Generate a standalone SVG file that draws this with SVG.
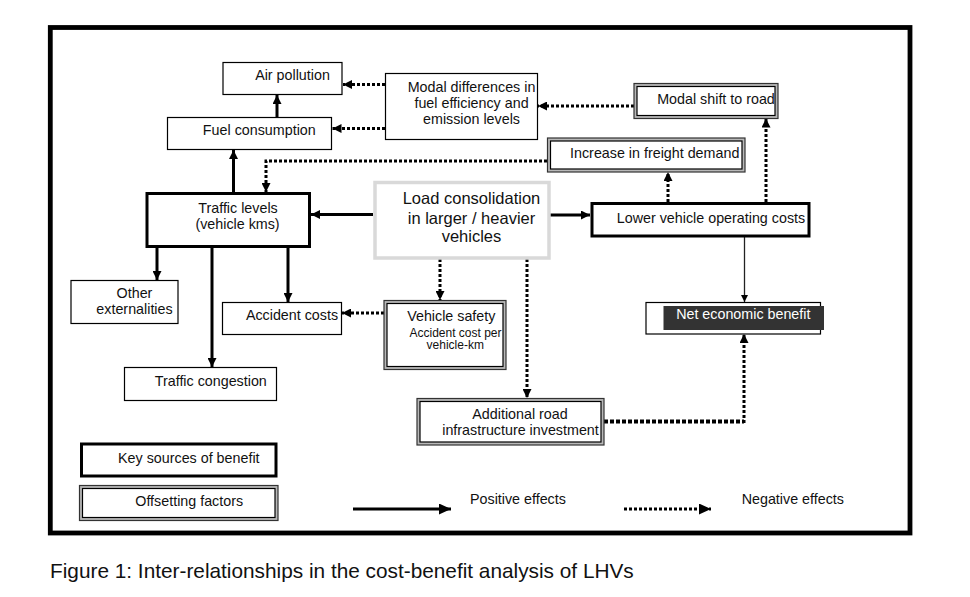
<svg xmlns="http://www.w3.org/2000/svg" width="970" height="597" viewBox="0 0 970 597">
<defs>
<style>
text{font-family:"Liberation Sans",Arial,sans-serif;font-size:14.3px;fill:#111;text-anchor:middle}
.big{font-size:16.5px}
.sm{font-size:12px}
.st{text-anchor:start}
.box{fill:#fff;stroke:#000;stroke-width:1.2}
.thick{fill:#fff;stroke:#000;stroke-width:3}
.dbo{fill:#b8b8b8;stroke:#333;stroke-width:1.2}
.dbi{fill:#fff;stroke:#000;stroke-width:1.2}
.sol{fill:none;stroke:#000;stroke-width:3}
.dot{fill:none;stroke:#000;stroke-width:3;stroke-dasharray:3 2}
</style>
<marker id="ah" markerUnits="userSpaceOnUse" markerWidth="9" markerHeight="9" viewBox="0 0 10 10" refX="10" refY="5" orient="auto"><path d="M0,0L10,5L0,10z" fill="#000"/></marker>
<marker id="ahs" markerUnits="userSpaceOnUse" markerWidth="7" markerHeight="7" viewBox="0 0 10 10" refX="10" refY="5" orient="auto"><path d="M0,0L10,5L0,10z" fill="#000"/></marker>
<marker id="ahl" markerUnits="userSpaceOnUse" markerWidth="12" markerHeight="11" viewBox="0 0 12 11" refX="12" refY="5.5" orient="auto"><path d="M0,0L12,5.5L0,11z" fill="#000"/></marker>
</defs>
<rect width="970" height="597" fill="#fff"/>
<rect x="50.3" y="27.5" width="859.7" height="505.5" fill="none" stroke="#000" stroke-width="4.8"/>

<g id="connectors">
<line class="sol" x1="277" y1="117" x2="277" y2="95" marker-end="url(#ah)"/>
<line class="sol" x1="233.5" y1="192" x2="233.5" y2="150" marker-end="url(#ah)"/>
<line class="sol" x1="373" y1="214.5" x2="311" y2="214.5" marker-end="url(#ah)"/>
<line class="sol" x1="550" y1="215" x2="590" y2="215" marker-end="url(#ah)"/>
<line class="sol" x1="157" y1="247" x2="157" y2="280" marker-end="url(#ah)"/>
<line class="sol" x1="212" y1="247" x2="212" y2="367" marker-end="url(#ah)"/>
<line class="sol" x1="288" y1="247" x2="288" y2="302" marker-end="url(#ah)"/>
<line class="dot" x1="385" y1="84.5" x2="343" y2="84.5" marker-end="url(#ah)"/>
<line class="dot" x1="385" y1="128.5" x2="332.5" y2="128.5" marker-end="url(#ah)"/>
<line class="dot" x1="634" y1="106" x2="538" y2="106" marker-end="url(#ah)"/>
<path class="dot" d="M547,161H266V192" marker-end="url(#ah)"/>
<line class="dot" x1="668" y1="202" x2="668" y2="172" marker-end="url(#ah)"/>
<line class="dot" x1="766" y1="202" x2="766" y2="118.5" marker-end="url(#ah)"/>
<line class="dot" x1="440" y1="259" x2="440" y2="300" marker-end="url(#ah)"/>
<line class="dot" x1="384" y1="313" x2="342" y2="313" marker-end="url(#ah)"/>
<line class="dot" x1="527" y1="259" x2="527" y2="398" marker-end="url(#ah)"/>
<path d="M604,421.5H744" fill="none" stroke="#000" stroke-width="4" stroke-dasharray="4 2"/>
<line class="dot" x1="744" y1="423" x2="744" y2="334" marker-end="url(#ah)"/>
<line x1="744.5" y1="237" x2="744.5" y2="302" stroke="#222" stroke-width="1.3" marker-end="url(#ahs)"/>
</g>

<g id="air-pollution"><rect class="box" x="223" y="62.5" width="119" height="32"/><text x="292.5" y="80">Air pollution</text></g>
<g id="fuel-consumption"><rect class="box" x="167.5" y="117.5" width="164" height="32"/><text x="259.3" y="135">Fuel consumption</text></g>
<g id="modal-differences"><rect class="box" x="385.5" y="73.5" width="152" height="66"/><text x="471.5" y="91.5">Modal differences in</text><text x="471.5" y="108">fuel efficiency and</text><text x="471.5" y="124">emission levels</text></g>
<g id="modal-shift"><rect class="dbo" x="634" y="83.5" width="144" height="35"/><rect class="dbi" x="637" y="86.5" width="138" height="29"/><text x="716" y="104">Modal shift to road</text></g>
<g id="freight-demand"><rect class="dbo" x="547.5" y="138" width="197.5" height="34"/><rect class="dbi" x="550.5" y="141" width="191.5" height="28"/><text x="654.7" y="158.3">Increase in freight demand</text></g>
<g id="traffic-levels"><rect class="thick" x="147" y="193.5" width="162.5" height="53"/><text x="238" y="212.5">Traffic levels</text><text x="237.5" y="228.5">(vehicle kms)</text></g>
<g id="load-consolidation"><rect x="375" y="182.5" width="174" height="75.5" fill="#fff" stroke="#d9d9d9" stroke-width="3.5"/><text class="big" x="471.5" y="204.3">Load consolidation</text><text class="big" x="471.5" y="224">in larger / heavier</text><text class="big" x="471.5" y="242.3">vehicles</text></g>
<g id="lower-costs"><rect class="thick" x="592" y="203.5" width="217" height="32.5"/><text x="711" y="223.3">Lower vehicle operating costs</text></g>
<g id="other-externalities"><rect class="box" x="71" y="280.5" width="107" height="43"/><text x="134.5" y="298.3">Other</text><text x="134.5" y="314">externalities</text></g>
<g id="accident-costs"><rect class="box" x="222.5" y="302.5" width="119" height="32"/><text x="292" y="320">Accident costs</text></g>
<g id="traffic-congestion"><rect class="box" x="124.5" y="367.5" width="152" height="33"/><text x="210.8" y="386">Traffic congestion</text></g>
<g id="vehicle-safety"><rect class="dbo" x="384" y="300.5" width="122" height="69"/><rect class="dbi" x="387" y="303.5" width="116" height="63"/><text x="451.3" y="320.7">Vehicle safety</text><text class="sm" x="455.5" y="336.7">Accident cost per</text><text class="sm" x="455.3" y="349">vehicle-km</text></g>
<g id="additional-road"><rect class="dbo" x="417" y="398.5" width="187" height="46.5"/><rect class="dbi" x="420" y="401.5" width="181" height="40.5"/><text x="520" y="419.3">Additional road</text><text x="520.5" y="435">infrastructure investment</text></g>
<g id="net-benefit"><rect class="box" x="646" y="302.5" width="174.5" height="31.5"/><rect x="663.5" y="306" width="160.5" height="24" fill="#333"/><text x="743.3" y="319.3" style="fill:#fff">Net economic benefit</text></g>

<g id="legend">
<rect x="81.5" y="444" width="194.5" height="32" fill="#fff" stroke="#000" stroke-width="3"/><text x="188.8" y="463.3">Key sources of benefit</text>
<rect class="dbo" x="79.5" y="485.5" width="198.5" height="35"/><rect class="dbi" x="82.5" y="488.5" width="192.5" height="29"/><text x="189.2" y="506">Offsetting factors</text>
<line x1="353" y1="509" x2="451" y2="509" stroke="#000" stroke-width="3" marker-end="url(#ahl)"/>
<text class="st" x="470" y="504">Positive effects</text>
<line x1="624" y1="509" x2="711" y2="509" stroke="#000" stroke-width="3" stroke-dasharray="3 2" marker-end="url(#ahl)"/>
<text class="st" x="741.7" y="504">Negative effects</text>
</g>
<text class="st" x="50" y="577.5" style="font-size:20.8px">Figure 1: Inter-relationships in the cost-benefit analysis of LHVs</text>
</svg>
